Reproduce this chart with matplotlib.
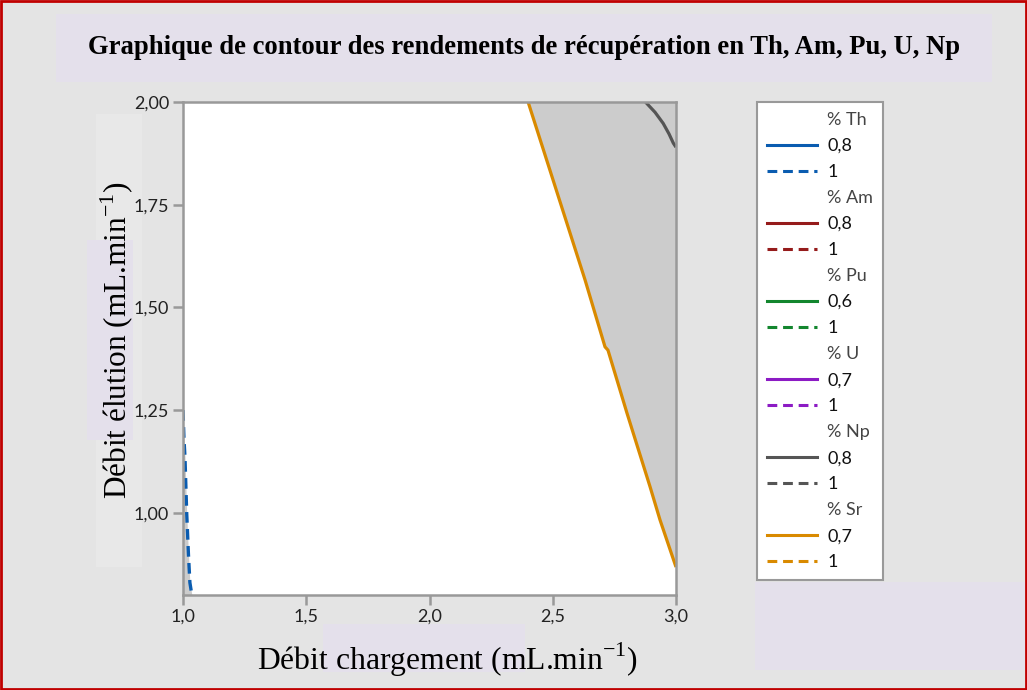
import matplotlib.pyplot as plt
from matplotlib.lines import Line2D
from matplotlib.patches import Rectangle

plt.rcParams['mathtext.fontset'] = 'custom'
plt.rcParams['mathtext.rm'] = 'Liberation Serif'

# contour lines (x = débit chargement, y = débit élution)
sr_x = [2.400, 2.631, 2.712, 2.724, 2.801, 2.895, 2.935, 3.000]
sr_y = [2.000, 1.567, 1.404, 1.396, 1.243, 1.063, 0.983, 0.868]
th_x = [1.000, 1.004, 1.008, 1.015, 1.022, 1.028, 1.036]
th_y = [1.250, 1.180, 1.136, 1.000, 0.900, 0.830, 0.800]
np_x = [2.876, 2.915, 2.948, 2.972, 2.989, 3.000]
np_y = [2.000, 1.975, 1.948, 1.922, 1.900, 1.890]

x_ticks = [1.0, 1.5, 2.0, 2.5, 3.0]
x_labels = ['1,0', '1,5', '2,0', '2,5', '3,0']
y_ticks = [1.00, 1.25, 1.50, 1.75, 2.00]
y_labels = ['1,00', '1,25', '1,50', '1,75', '2,00']

metals = ['Th', 'Am', 'Pu', 'U', 'Np', 'Sr']
low_levels = ['0,8', '0,8', '0,6', '0,7', '0,8', '0,7']
colors = ['#0a5cb0', '#951b1b', '#13862e', '#8c1bc4', '#555555', '#d98a00']

bg = '#e4e4e4'
lav = '#e4e0eb'
dash = (0, (3.2, 1.9))

fig = plt.figure(figsize=(10.27, 6.9), dpi=100, facecolor=bg)
W, H = 1027, 690

def box(x0, y0, x1, y1, fc, ec='none', lw=0, z=-5):
    fig.patches.append(Rectangle((x0 / W, 1 - y1 / H), (x1 - x0) / W, (y1 - y0) / H,
                                 transform=fig.transFigure, facecolor=fc,
                                 edgecolor=ec, linewidth=lw, zorder=z))

box(1, 1, 1026, 689, 'none', ec='#c00000', lw=2, z=10)
box(56, 14, 992, 82, lav)
box(96, 114, 142, 567, '#e8e8e8')
box(87, 240, 133, 440, lav)
box(323, 624, 525, 672, lav)
box(755, 582, 1027, 670, lav)

fig.text(524 / W, 1 - 48 / H,
         'Graphique de contour des rendements de récupération en Th, Am, Pu, U, Np',
         ha='center', va='center', family='Liberation Serif', weight='bold', fontsize=19.2)

ax = fig.add_axes([183 / W, 1 - 595 / H, 493 / W, 493 / H])
ax.set_facecolor('white')
ax.set_xlim(1.0, 3.0)
ax.set_ylim(0.8, 2.0)

ax.fill_betweenx(sr_y, sr_x, 3.0, color='#cccccc', lw=0)
ax.fill_betweenx(th_y, 1.0, th_x, color='#cccccc', lw=0)
ax.plot(sr_x, sr_y, color=colors[5], lw=2.3, solid_capstyle='butt')
ax.plot(np_x, np_y, color=colors[4], lw=2.3, solid_capstyle='butt')
ax.plot(th_x, th_y, color=colors[0], lw=2.4, linestyle=dash)

for s in ax.spines.values():
    s.set_color('#999999')
    s.set_linewidth(1.8)
ax.tick_params(direction='out', length=7, width=1.8, color='#999999',
               labelsize=13, labelcolor='#222222', pad=3)
ax.set_xticks(x_ticks)
ax.set_xticklabels(x_labels, family='Lato')
ax.set_yticks(y_ticks)
ax.set_yticklabels(y_labels, family='Lato')

fig.text(448 / W, 1 - 660 / H, 'Débit chargement (mL.min$^{\\mathregular{-1}}$)',
         ha='center', va='center', family='Liberation Serif', fontsize=22.8)
fig.text(117 / W, 1 - 340 / H, 'Débit élution (mL.min$^{\\mathregular{-1}}$)',
         ha='center', va='center', rotation=90, family='Liberation Serif', fontsize=22.5)

handles, labels = [], []
for m, lv, c in zip(metals, low_levels, colors):
    handles.append(Line2D([], [], linestyle='None'))
    labels.append('% ' + m)
    handles.append(Line2D([], [], color=c, lw=2.2))
    labels.append(lv)
    handles.append(Line2D([], [], color=c, lw=2.2, linestyle=dash))
    labels.append('1')

leg = fig.legend(handles, labels, loc='upper left',
                 bbox_to_anchor=(757 / W, 1 - 102 / H), borderaxespad=0,
                 frameon=True, fancybox=False, framealpha=1, facecolor='white',
                 edgecolor='#999999',
                 prop={'family': 'Lato', 'size': 13}, handlelength=2.8,
                 handletextpad=0.55, labelspacing=0.555, borderpad=0.55)
leg.get_frame().set_linewidth(1.5)
for i, t in enumerate(leg.get_texts()):
    t.set_color('#444444' if i % 3 == 0 else '#111111')

fig.savefig('out.png', dpi=100, facecolor=bg)
